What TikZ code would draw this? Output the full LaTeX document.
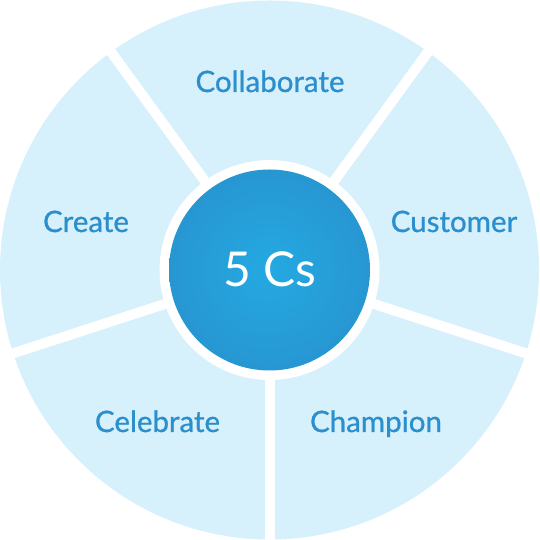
\documentclass[tikz,border=0pt]{standalone}
\usepackage{fontspec}
\setmainfont{Lato}
\newfontfamily\lblfont{Lato}[FakeBold=0.8]
\definecolor{sector}{HTML}{D6F0FC}
\definecolor{labelblue}{HTML}{2A8FCC}
\definecolor{coreIn}{HTML}{24A9E1}
\definecolor{coreOut}{HTML}{2A84C3}
\pgfdeclareradialshading{coreshade}{\pgfpoint{0bp}{0bp}}{color(0bp)=(coreIn); color(50bp)=(coreOut)}
\begin{document}
\begin{tikzpicture}[x=1pt,y=1pt,
  lbl/.style={text=labelblue,font=\lblfont\fontsize{29.5}{33}\selectfont,anchor=base,inner sep=0pt},
  gap/.style={white,line width=10pt}]
\useasboundingbox (0,0) rectangle (539,540);
\coordinate (c) at (269.5,270);
\fill[sector] (c) circle (269.5);
\foreach \a in {54,126,198,270,342}
  \draw[gap] (c) -- ++(\a:280);
\fill[white] (c) circle (110);
\shade[shading=coreshade] (c) circle (100.5);
\node[text=white,font=\fontsize{48}{54}\selectfont,anchor=base,inner sep=0pt] (core) at (269.5,253) {5 Cs};
\node[lbl] (collab) at (270,448) {Collaborate};
\node[lbl] (cust) at (454,308) {Customer};
\node[lbl] (create) at (86,308) {Create};
\node[lbl] (celeb) at (157.5,108) {Celebrate};
\node[lbl] (champ) at (376,108) {Champion};
\end{tikzpicture}
\end{document}
